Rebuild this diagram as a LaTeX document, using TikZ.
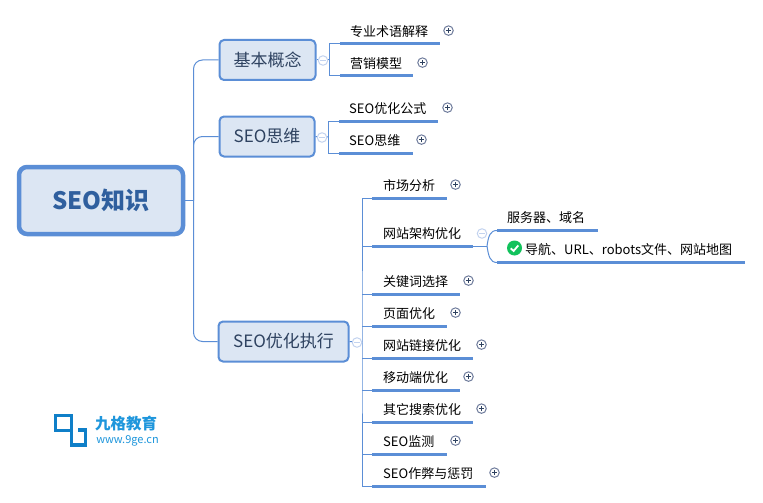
\documentclass[tikz,border=0pt]{standalone}
\usepackage{fontspec}
\setmainfont{Noto Sans CJK SC}
\definecolor{lineblue}{HTML}{5B8ED6}
\definecolor{boxfill}{HTML}{DCE6F3}
\definecolor{rootink}{HTML}{2F5F9E}
\definecolor{topicink}{HTML}{2E4260}
\definecolor{minusink}{HTML}{C3D3EF}
\definecolor{plusink}{HTML}{6F7C9C}
\definecolor{logoblue}{HTML}{0F7FC8}
\definecolor{logotext}{HTML}{1E96DC}
\definecolor{okgreen}{HTML}{12C25C}
\tikzset{
  x=1pt,y=-1pt,
  link/.style={draw=lineblue,line width=1pt},
  ul/.style={draw=lineblue,line width=3pt},
  rootbox/.style={draw=lineblue,fill=boxfill,line width=4.5pt,rounded corners=8pt,text=rootink,font=\fontsize{24}{28}\selectfont\bfseries,minimum width=164pt,minimum height=67pt,inner sep=0pt},
  mainbox/.style={draw=lineblue,fill=boxfill,line width=2pt,rounded corners=4.5pt,text=topicink,font=\fontsize{17}{20}\selectfont,minimum height=40pt,inner sep=0pt},
  leaf/.style={anchor=west,inner sep=0pt,text=black,font=\fontsize{13}{16}\selectfont,yshift=-0.7pt},
  minusbtn/.style={circle,draw=minusink,fill=white,line width=1pt,minimum size=9.5pt,inner sep=0pt,path picture={\draw[minusink,line width=.9pt] ([xshift=-2.6pt]path picture bounding box.center)--([xshift=2.6pt]path picture bounding box.center);}},
  plusbtn/.style={circle,draw=plusink,fill=white,line width=1pt,minimum size=9.5pt,inner sep=0pt,yshift=0.4pt,path picture={\draw[topicink,line width=.9pt] ([xshift=-2.6pt]path picture bounding box.center)--([xshift=2.6pt]path picture bounding box.center) ([yshift=-2.6pt]path picture bounding box.center)--([yshift=2.6pt]path picture bounding box.center);}},
}
% name, x-start of underline, x-end, underline y, text x, text y, plus x, text
\newcommand{\leafitem}[8]{%
  \coordinate (#1l) at (#2,#4);
  \coordinate (#1r) at (#3,#4);
  \node[leaf] (#1) at (#5,#6) {#8};
  \node[plusbtn] (#1p) at (#7,#6) {};
  \draw[ul] (#1l) -- (#1r);
}
\newcommand{\lowered}[1]{\raisebox{-0.7pt}{#1}}
\begin{document}
\begin{tikzpicture}
\useasboundingbox (0,0) rectangle (763,503);
\fill[white] (0,0) rectangle (763,503);
% main nodes
\node[rootbox] (root) at (101,200.5) {SEO知识};
\node[mainbox,minimum width=96pt] (a) at (267.5,60) {\lowered{基本概念}};
\node[mainbox,minimum width=95pt] (b) at (267,136.5) {\lowered{SEO思维}};
\node[mainbox,minimum width=130pt] (c) at (283.5,341.5) {\lowered{SEO优化执行}};
\coordinate (trunk) at (193.5,200.5);
\coordinate (busA) at (329.5,60);
\coordinate (busB) at (328.5,137);
\coordinate (busC) at (362,342);
% root connectors
\draw[link] (root.east) -- (trunk);
\draw[link,rounded corners=9pt] (trunk) |- (a.west);
\draw[link,rounded corners=9pt] (trunk) |- (b.west);
\draw[link,rounded corners=9pt] (trunk) |- (c.west);
% leaves
\leafitem{a1}{340}{440}{44}{350}{31}{448.5}{专业术语解释}
\leafitem{a2}{340}{413}{76}{350}{63}{422.5}{营销模型}
\leafitem{b1}{339}{438}{121.5}{349}{108}{447.5}{SEO优化公式}
\leafitem{b2}{339}{413}{153.5}{349}{140}{421.5}{SEO思维}
\leafitem{c1}{372}{447}{198}{383}{185}{455.5}{市场分析}
\coordinate (c2l) at (372,246); \coordinate (c2r) at (473,246);
\node[leaf] (c2) at (383,233) {网站架构优化};
\draw[ul] (c2l) -- (c2r);
\leafitem{c3}{372}{460}{294}{383}{281}{468.5}{关键词选择}
\leafitem{c4}{372}{447}{326}{383}{313}{455.5}{页面优化}
\leafitem{c5}{372}{473}{358}{383}{345}{481.5}{网站链接优化}
\leafitem{c6}{372}{460}{390}{383}{377}{468.5}{移动端优化}
\leafitem{c7}{372}{473}{422}{383}{409}{481.5}{其它搜索优化}
\leafitem{c8}{372}{447}{454}{383}{441}{455.5}{SEO监测}
\leafitem{c9}{372}{486}{486}{383}{473}{494.5}{SEO作弊与惩罚}
% brackets
\draw[link] (a.east) -- (busA);
\draw[link] (a1l) -| (busA) |- (a2l);
\draw[link] (b.east) -- (busB);
\draw[link] (b1l) -| (busB) |- (b2l);
\draw[link] (c.east) -- (busC);
\draw[link] (c1l) -| (busC) |- (c9l);
\foreach \n in {c2,c3,c4,c5,c6,c7,c8}{\draw[link] (busC |- \n l) -- (\n l);}
\node[minusbtn] (am) at (323,60.5) {};
\node[minusbtn] (bm) at (322,137.5) {};
\node[minusbtn] (cm) at (357,342.5) {};
% second level
\coordinate (d1l) at (497,230.5); \coordinate (d1r) at (598,230.5);
\coordinate (d2l) at (497,262.5); \coordinate (d2r) at (745,262.5);
\coordinate (dj) at (487,246);
\node[leaf] (d1) at (507,217) {服务器、域名};
\node[circle,fill=okgreen,minimum size=15pt,inner sep=0pt] (chk) at (514.5,248) {};
\draw[white,line width=1.8pt] ([shift={(-3.8,0.3)}]chk.center) -- ([shift={(-0.9,3)}]chk.center) -- ([shift={(3.8,-2.6)}]chk.center);
\node[leaf] (d2) at (525,249) {导航、URL、robots文件、网站地图};
\draw[ul] (d1l) -- (d1r);
\draw[ul] (d2l) -- (d2r);
\draw[link] (c2r) -- (dj);
\draw[link] (dj) .. controls (488.5,236) and (490,230.5) .. (d1l);
\draw[link] (dj) .. controls (488.5,256) and (490,262.5) .. (d2l);
\node[minusbtn] (dm) at (482,233.5) {};
% logo
\draw[logoblue,line width=3.5pt] (55.7,415.7) rectangle (71.5,430.5);
\draw[logoblue,line width=3.5pt] (71.5,430.5) -- (71.5,445) -- (85.5,445) -- (85.5,430) -- (78,430);
\node[anchor=center,inner sep=0pt,text=logotext,font=\fontsize{15.5}{18}\selectfont\bfseries] (lg1) at (126,423.5) {九格教育};
\node[anchor=center,inner sep=0pt,text=logotext,font=\fontsize{11}{13}\selectfont] (lg2) at (127.5,441) {www.9ge.cn};
\end{tikzpicture}
\end{document}
